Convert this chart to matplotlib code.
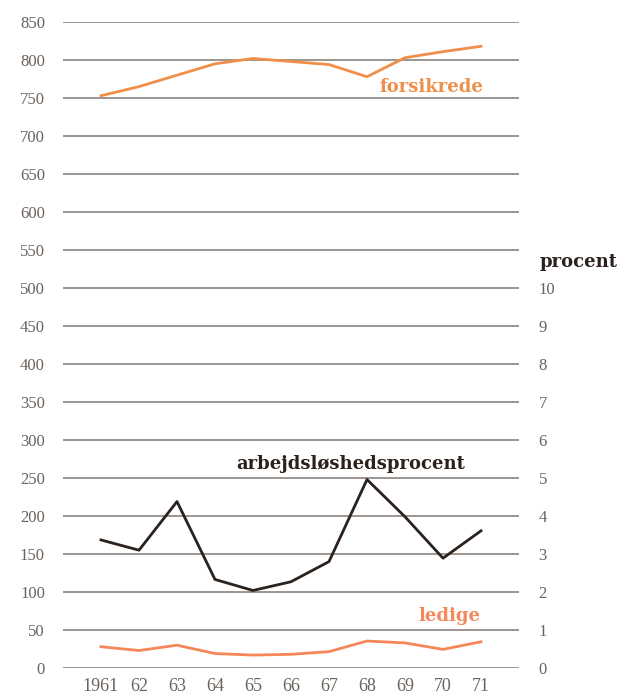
import matplotlib.pyplot as plt
import numpy as np

# Forsikrede, ledige (tusinder) og arbejdsloeshedsprocent 1961-71
years = [1961, 1962, 1963, 1964, 1965, 1966, 1967, 1968, 1969, 1970, 1971]
year_labels = ['1961', '62', '63', '64', '65', '66', '67', '68', '69', '70', '71']
forsikrede = [753, 765, 780, 795, 802, 798, 794, 778, 803, 811, 818]
ledige = [28, 23, 30, 19, 17, 18, 21.5, 35.5, 33, 24.5, 34.5]
procent = [3.37, 3.1, 4.38, 2.33, 2.04, 2.27, 2.8, 4.96, 3.98, 2.89, 3.61]

left_ticks = list(range(0, 851, 50))
right_ticks = list(range(0, 11))

orange = '#ef8f4a'
orange2 = '#f5875a'
dark = '#2b211d'
grid_col = '#8c837c'
tick_col = '#6a625c'

plt.rcParams['font.family'] = ['Liberation Serif', 'DejaVu Serif']

fig = plt.figure(figsize=(6.17, 6.95), dpi=100)
ax = fig.add_axes([63/617, 27/695, 456/617, 646/695])

for v in left_ticks:
    ax.axhline(v, color=grid_col, lw=1.2, zorder=1)

ax.plot(years, forsikrede, color=orange, lw=2, zorder=3)
ax.plot(years, ledige, color=orange2, lw=2, zorder=3)

ax2 = ax.twinx()
ax2.plot(years, procent, color=dark, lw=2, zorder=3)

ax.set_xlim(1960, 1972)
ax.set_ylim(0, 850)
ax2.set_ylim(0, 17)

ax.set_yticks(left_ticks)
ax.set_yticklabels([str(v) for v in left_ticks], fontsize=12, color=tick_col)
ax.set_xticks(years)
ax.set_xticklabels(year_labels, fontsize=13, color=tick_col)
ax2.set_yticks(right_ticks)
ax2.set_yticklabels([str(v) for v in right_ticks], fontsize=12, color=tick_col)

ax.tick_params(axis='y', length=0, pad=13)
ax.tick_params(axis='x', length=0, pad=7)
ax2.tick_params(axis='y', length=0, pad=14)

for a in (ax, ax2):
    for s in a.spines.values():
        s.set_visible(False)

lab = dict(family='DejaVu Serif', fontsize=13, fontweight='bold',
           ha='center', va='baseline')
ax.text(1969.7, 758, 'forsikrede', color=orange, **lab)
ax.text(1967.57, 262, 'arbejdsløshedsprocent', color=dark, **lab)
ax.text(1970.18, 62, 'ledige', color=orange2, **lab)
ax2.text(1973.57, 10.55, 'procent', color=dark, clip_on=False, **lab)

fig.savefig('out.png', dpi=100, facecolor='white')
